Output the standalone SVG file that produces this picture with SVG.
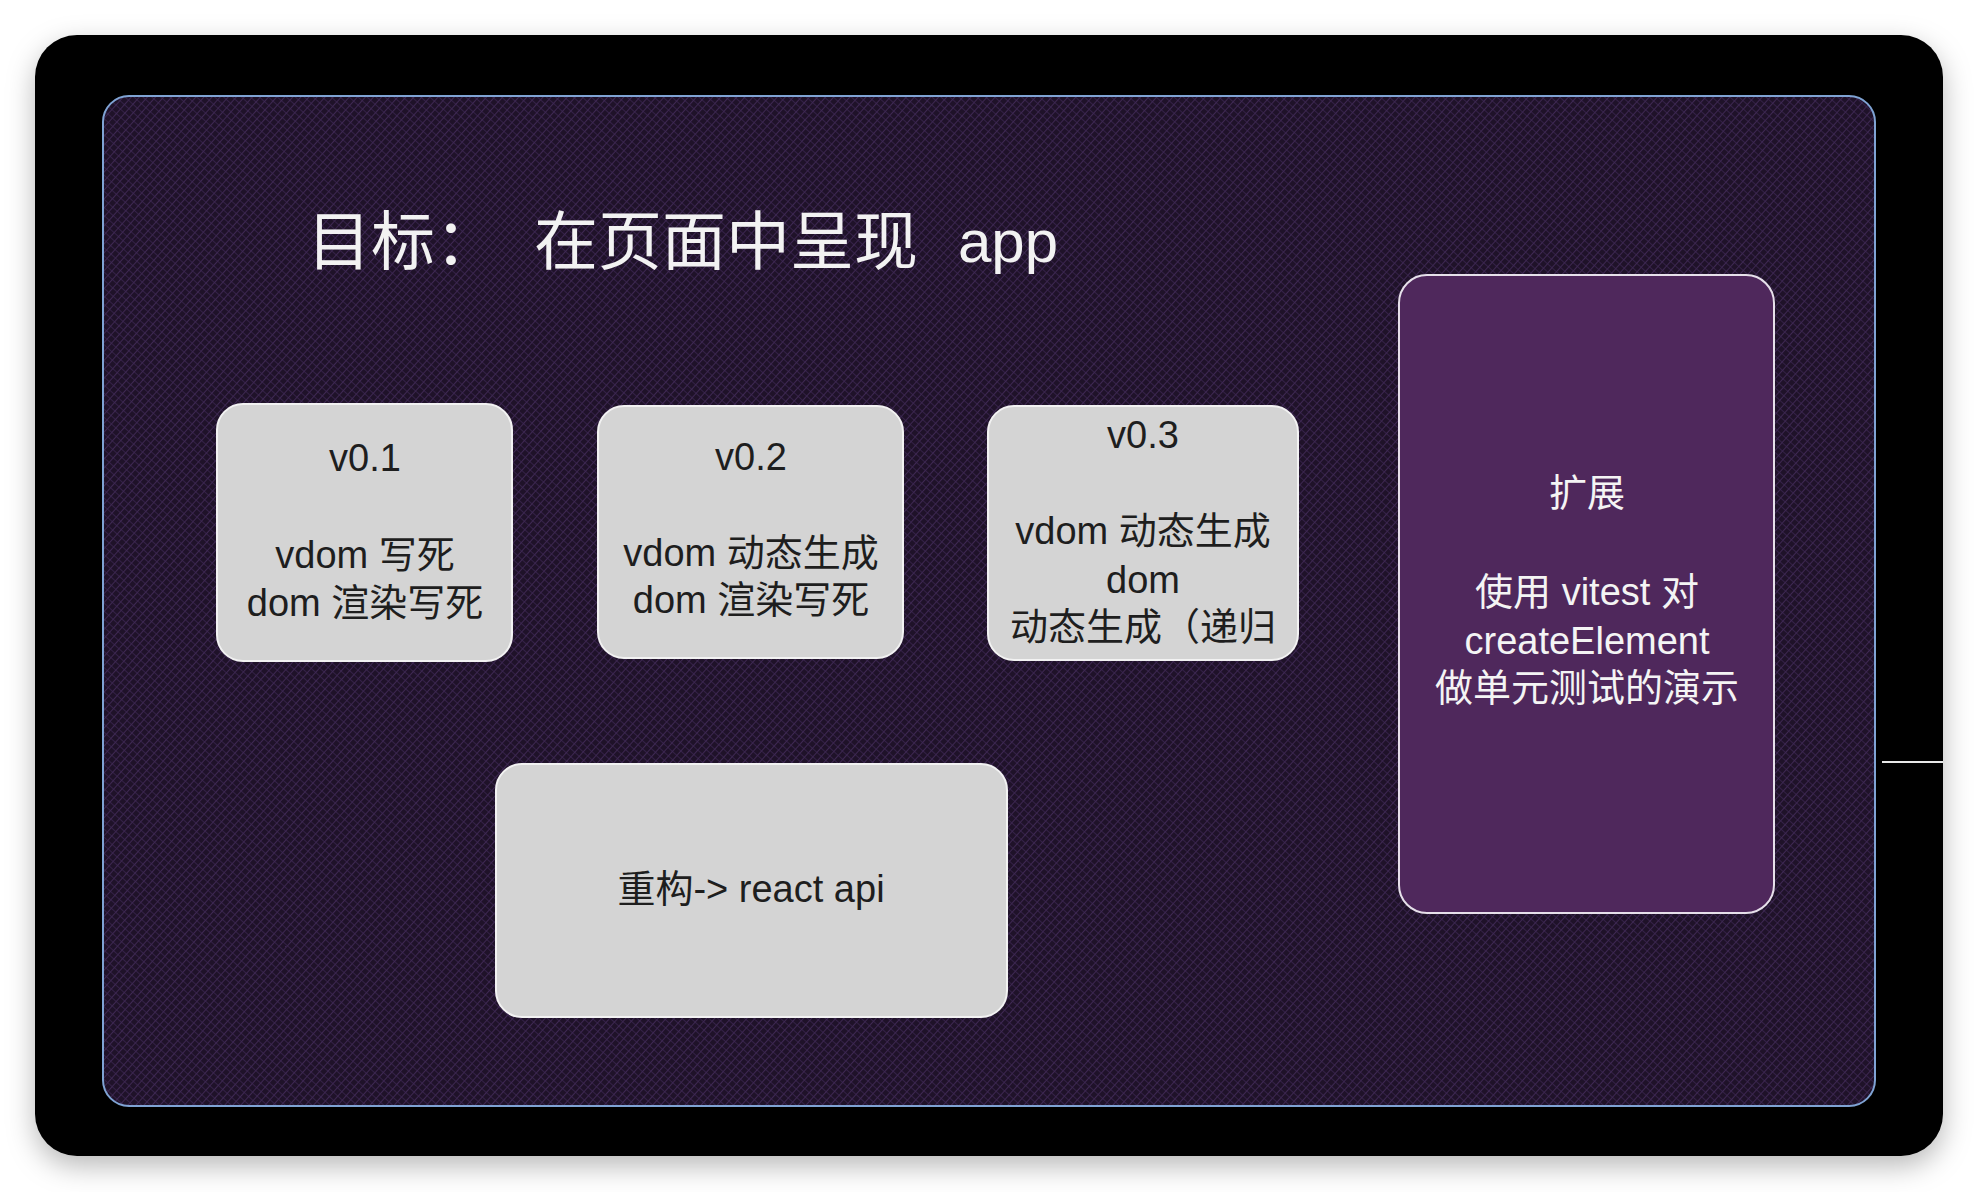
<svg xmlns="http://www.w3.org/2000/svg" width="1978" height="1192" viewBox="0 0 1978 1192">
<style>
.t{font-family:"Liberation Sans","Noto Sans CJK SC",sans-serif;text-anchor:middle;}
.dark{fill:#1e1e1e;font-size:38px;}
.light{fill:#f4f4f4;font-size:38px;}
.title{fill:#f2f2f2;font-size:64px;font-family:"Noto Sans CJK SC","Liberation Sans",sans-serif;}
.gbox{fill:#d4d4d4;stroke:#f2f2f2;stroke-width:2;}
.pbox{fill:#4f285c;stroke:#e6e0ea;stroke-width:2;}
</style>
<defs>
<filter id="shadow" x="-5%" y="-5%" width="110%" height="115%">
<feDropShadow dx="0" dy="10" stdDeviation="14" flood-color="#000" flood-opacity="0.28"/>
</filter>
<pattern id="hatch" width="6" height="6" patternUnits="userSpaceOnUse" patternTransform="rotate(42)">
<rect width="6" height="6" fill="#1f1229"/>
<line x1="0" y1="0" x2="0" y2="6" stroke="#452d5c" stroke-width="1.6"/>
<line x1="0" y1="0" x2="6" y2="0" stroke="#3c2753" stroke-width="1.4"/>
</pattern>
</defs>
<rect width="1978" height="1192" fill="#ffffff"/>
<rect x="35" y="35" width="1908" height="1121" rx="42" fill="#030203" filter="url(#shadow)"/>
<rect id="panel" x="103" y="96" width="1772" height="1010" rx="26" fill="url(#hatch)" stroke="#7fa3d4" stroke-width="2"/>
<g id="title">
<text class="title" x="307" y="264">目标：</text>
<text class="title" x="534" y="264">在页面中呈现</text>
<text class="title" x="958" y="262" style="font-family:'Liberation Sans',sans-serif;font-size:60px;">app</text>
</g>
<g id="node-v01">
<rect class="gbox" x="217" y="404" width="295" height="257" rx="26"/>
<text class="t dark" x="365" y="471">v0.1</text>
<text class="t dark" x="365" y="568">vdom 写死</text>
<text class="t dark" x="365" y="616">dom 渲染写死</text>
</g>
<g id="node-v02">
<rect class="gbox" x="598" y="406" width="305" height="252" rx="26"/>
<text class="t dark" x="751" y="470">v0.2</text>
<text class="t dark" x="751" y="566">vdom 动态生成</text>
<text class="t dark" x="751" y="613">dom 渲染写死</text>
</g>
<g id="node-v03">
<rect class="gbox" x="988" y="406" width="310" height="254" rx="26"/>
<text class="t dark" x="1143" y="448">v0.3</text>
<text class="t dark" x="1143" y="544">vdom 动态生成</text>
<text class="t dark" x="1143" y="593">dom</text>
<text class="t dark" x="1143" y="640">动态生成（递归</text>
</g>
<g id="node-ext">
<rect class="pbox" x="1399" y="275" width="375" height="638" rx="28"/>
<text class="t light" x="1587" y="506">扩展</text>
<text class="t light" x="1587" y="605">使用 vitest 对</text>
<text class="t light" x="1587" y="654">createElement</text>
<text class="t light" x="1587" y="701">做单元测试的演示</text>
</g>
<g id="node-refactor">
<rect class="gbox" x="496" y="764" width="511" height="253" rx="26"/>
<text class="t dark" x="751" y="902">重构-&gt; react api</text>
</g>
<g id="connectors">
<line x1="1882" y1="762" x2="1943" y2="762" stroke="#e8e8e8" stroke-width="2"/>
</g>
</svg>
